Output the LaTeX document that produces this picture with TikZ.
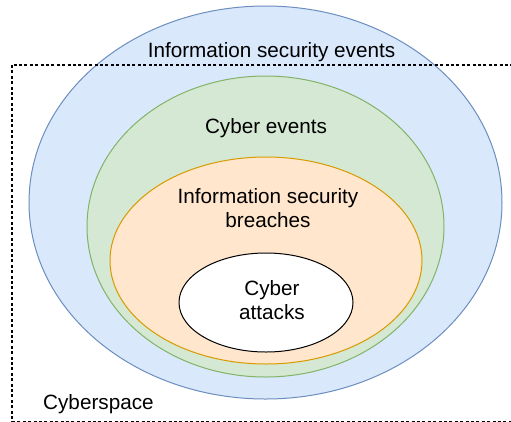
\documentclass[tikz,border=0pt]{standalone}
\usepackage{fontspec}
\setmainfont{Liberation Sans}
\usepackage{xcolor}
\usepackage{tikz}
\usetikzlibrary{shapes.geometric, positioning}
\definecolor{evblue}{HTML}{DAE8FC}
\definecolor{evbluedraw}{HTML}{6C8EBF}
\definecolor{evgreen}{HTML}{D5E8D4}
\definecolor{evgreendraw}{HTML}{82B366}
\definecolor{evorange}{HTML}{FFE6CC}
\definecolor{evorangedraw}{HTML}{D79B00}
\tikzset{
  setoval/.style={ellipse, inner sep=0pt, outer sep=0pt, line width=1pt},
  blueset/.style={setoval, draw=evbluedraw, fill=evblue},
  greenset/.style={setoval, draw=evgreendraw, fill=evgreen},
  orangeset/.style={setoval, draw=evorangedraw, fill=evorange},
  whiteset/.style={setoval, draw=black, fill=white},
  settext/.style={align=center, inner sep=0pt,
    font=\fontsize{20.7}{24}\selectfont},
  spacebox/.style={draw=black, line width=1.2pt, dash pattern=on 3pt off 2.4pt}
}
\begin{document}
\begin{tikzpicture}[x=1pt, y=-1pt]
  \useasboundingbox (0,0) rectangle (511,421);

  % Nested sets
  \node[blueset, minimum width=473pt, minimum height=393pt] (infoev) at (265.5, 202.5) {};
  \node[greenset, minimum width=357pt, minimum height=301pt] (cyberev) at (265.5, 226.5) {};
  \node[orangeset, minimum width=312pt, minimum height=207pt] (breach) at (266, 260.5) {};
  \node[whiteset, minimum width=174pt, minimum height=99pt] (attack) at (266, 302.5) {};

  % Cyberspace frame
  \draw[spacebox] (12, 65) rectangle (530, 421.4);

  % Labels
  \node[settext] (infoevtxt) at (271.5, 52) {Information security events};
  \node[settext] (cyberevtxt) at (266, 128) {Cyber events};
  \node[settext] (breachtxt) at (268, 208) {Information security\\breaches};
  \node[settext] (attacktxt) at (272, 300) {Cyber\\attacks};
  \node[settext, anchor=west] (spacetxt) at (43, 404) {Cyberspace};
\end{tikzpicture}
\end{document}
